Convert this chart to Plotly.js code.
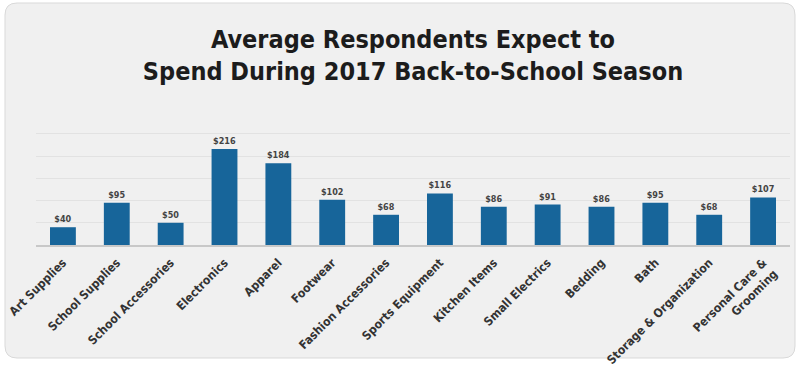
<!DOCTYPE html>
<html>
<head>
<meta charset="utf-8">
<script src="https://cdn.plot.ly/plotly-3.0.1.min.js"></script>
<style>html,body{margin:0;padding:0;background:#fff;}#chart{width:800px;height:376px;}</style>
</head>
<body>
<div id="chart"></div>
<script>
const categories = ["Art Supplies","School Supplies","School Accessories","Electronics","Apparel","Footwear","Fashion Accessories","Sports Equipment","Kitchen Items","Small Electrics","Bedding","Bath","Storage & Organization","Personal Care &<br>Grooming"];
const values = [40, 95, 50, 216, 184, 102, 68, 116, 86, 91, 86, 95, 68, 107];
const valueLabels = values.map(v => "$" + v);

const x0 = -31/754, x1 = 759/754, yb = -113/120, yt = 242/120, rx = 12/754, ry = 12/120;
const panelPath = `M ${x0+rx},${yt} L ${x1-rx},${yt} Q ${x1},${yt} ${x1},${yt-ry} L ${x1},${yb+ry} Q ${x1},${yb} ${x1-rx},${yb} L ${x0+rx},${yb} Q ${x0},${yb} ${x0},${yb+ry} L ${x0},${yt-ry} Q ${x0},${yt} ${x0+rx},${yt} Z`;

const trace = {
  type: "bar",
  x: categories,
  y: values,
  text: valueLabels,
  textposition: "outside",
  cliponaxis: false,
  textfont: {family: "DejaVu Sans Condensed", size: 9, color: "#444", weight: "bold"},
  marker: {color: "#17659a"},
  hoverinfo: "none"
};

const layout = {
  width: 800, height: 376,
  margin: {l: 36, r: 10, t: 125, b: 131},
  paper_bgcolor: "#ffffff",
  plot_bgcolor: "rgba(0,0,0,0)",
  bargap: 0.52,
  showlegend: false,
  title: {
    text: "<b>Average Respondents Expect to<br>Spend During 2017 Back-to-School Season</b>",
    font: {family: "DejaVu Sans Condensed", size: 25, color: "#1c1c1c"},
    x: 0.5, xref: "paper", xanchor: "center",
    y: 0.873, yref: "container", yanchor: "top"
  },
  xaxis: {
    tickangle: -45,
    tickfont: {family: "DejaVu Sans Condensed", size: 12, color: "#333", weight: "bold"},
    showline: true, linecolor: "#c8c8c8", linewidth: 2,
    ticks: "outside", ticklen: 4, tickcolor: "rgba(0,0,0,0)", showgrid: false, fixedrange: true
  },
  yaxis: {
    range: [0, 270], dtick: 50,
    showticklabels: false, showgrid: true, gridcolor: "#e2e2e2", gridwidth: 1,
    zeroline: false, showline: false, fixedrange: true
  },
  shapes: [{
    type: "path", xref: "paper", yref: "paper", layer: "below",
    path: panelPath,
    fillcolor: "#f0f0f0",
    line: {color: "#d9d9d9", width: 1}
  }]
};

Plotly.newPlot("chart", [trace], layout, {displayModeBar: false, staticPlot: true});
</script>
</body>
</html>
